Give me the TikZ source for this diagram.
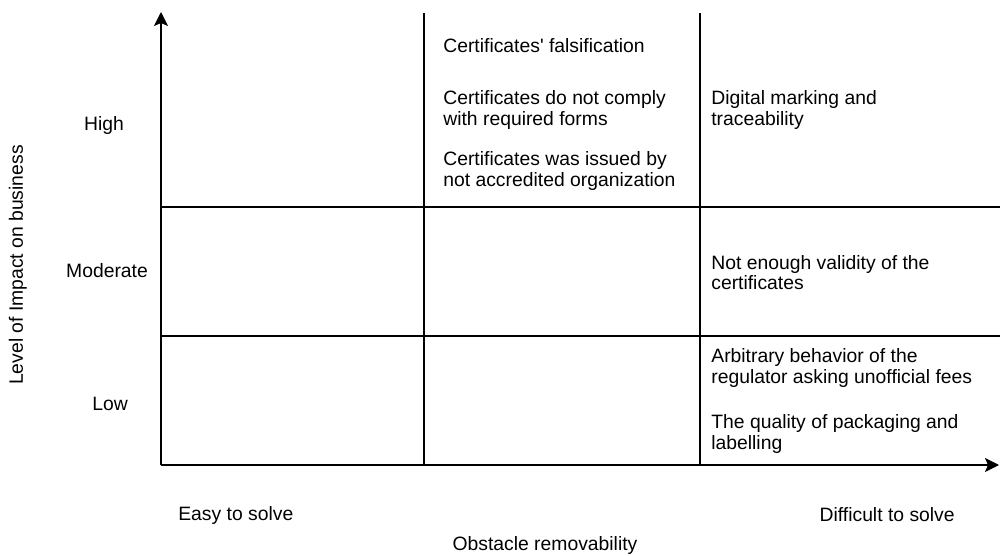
\documentclass[tikz,border=0pt]{standalone}
\usepackage{fontspec}
\setmainfont{Liberation Sans}
\usepackage{xcolor}
\usetikzlibrary{arrows.meta,positioning}

\begin{document}
\begin{tikzpicture}[
    cell/.style={inner sep=0pt, anchor=west, align=left, text=black, font=\fontsize{11}{11.4}\selectfont},
    level/.style={inner sep=0pt, text=black, font=\fontsize{11}{11.4}\selectfont},
    grid/.style={line width=0.8pt, black},
    axis/.style={-{Stealth[length=2.8mm, width=2.8mm, inset=0.6mm]}, line width=0.8pt, black}
]
\useasboundingbox (0,0) rectangle (20,11.1);

% axes and grid corners
\coordinate (origin) at (3.22,1.8);
\coordinate (ytip) at (3.22,10.86);
\coordinate (xtip) at (19.98,1.8);
\coordinate (ctop) at (8.48,10.84);
\coordinate (cbot) at (8.48,1.8);
\coordinate (dtop) at (14.0,10.84);
\coordinate (dbot) at (14.0,1.8);
\coordinate (hleft) at (3.22,6.96);
\coordinate (hright) at (20.0,6.96);
\coordinate (mleft) at (3.22,4.38);
\coordinate (mright) at (20.0,4.38);

\draw[axis] (origin) -- (ytip);
\draw[axis] (origin) -- (xtip);
\draw[grid] (ctop) -- (cbot);
\draw[grid] (dtop) -- (dbot);
\draw[grid] (hleft) -- (hright);
\draw[grid] (mleft) -- (mright);

% impact levels
\node[level] (high) at (2.08,8.6) {High};
\node[level] (moderate) at (2.14,5.68) {Moderate};
\node[level] (low) at (2.2,3.02) {Low};
\node[level, rotate=90] (impact) at (0.36,5.8) {Level of Impact on business};

% removability
\node[level, anchor=west] (easy) at (3.56,0.8) {Easy to solve};
\node[level, anchor=east] (difficult) at (19.1,0.8) {Difficult to solve};
\node[level] (removability) at (10.9,0.2) {Obstacle removability};

% obstacles
\node[cell] (falsification) at (8.86,10.18) {Certificates\textquotesingle{} falsification};
\node[cell] (forms) at (8.86,8.9) {Certificates do not comply\\with required forms};
\node[cell] (accredited) at (8.86,7.68) {Certificates was issued by\\not accredited organization};
\node[cell] (marking) at (14.22,8.9) {Digital marking and\\traceability};
\node[cell] (validity) at (14.22,5.64) {Not enough validity of the\\certificates};
\node[cell] (regulator) at (14.22,3.74) {Arbitrary behavior of the\\regulator asking unofficial fees};
\node[cell] (packaging) at (14.22,2.42) {The quality of packaging and\\labelling};
\end{tikzpicture}
\end{document}
